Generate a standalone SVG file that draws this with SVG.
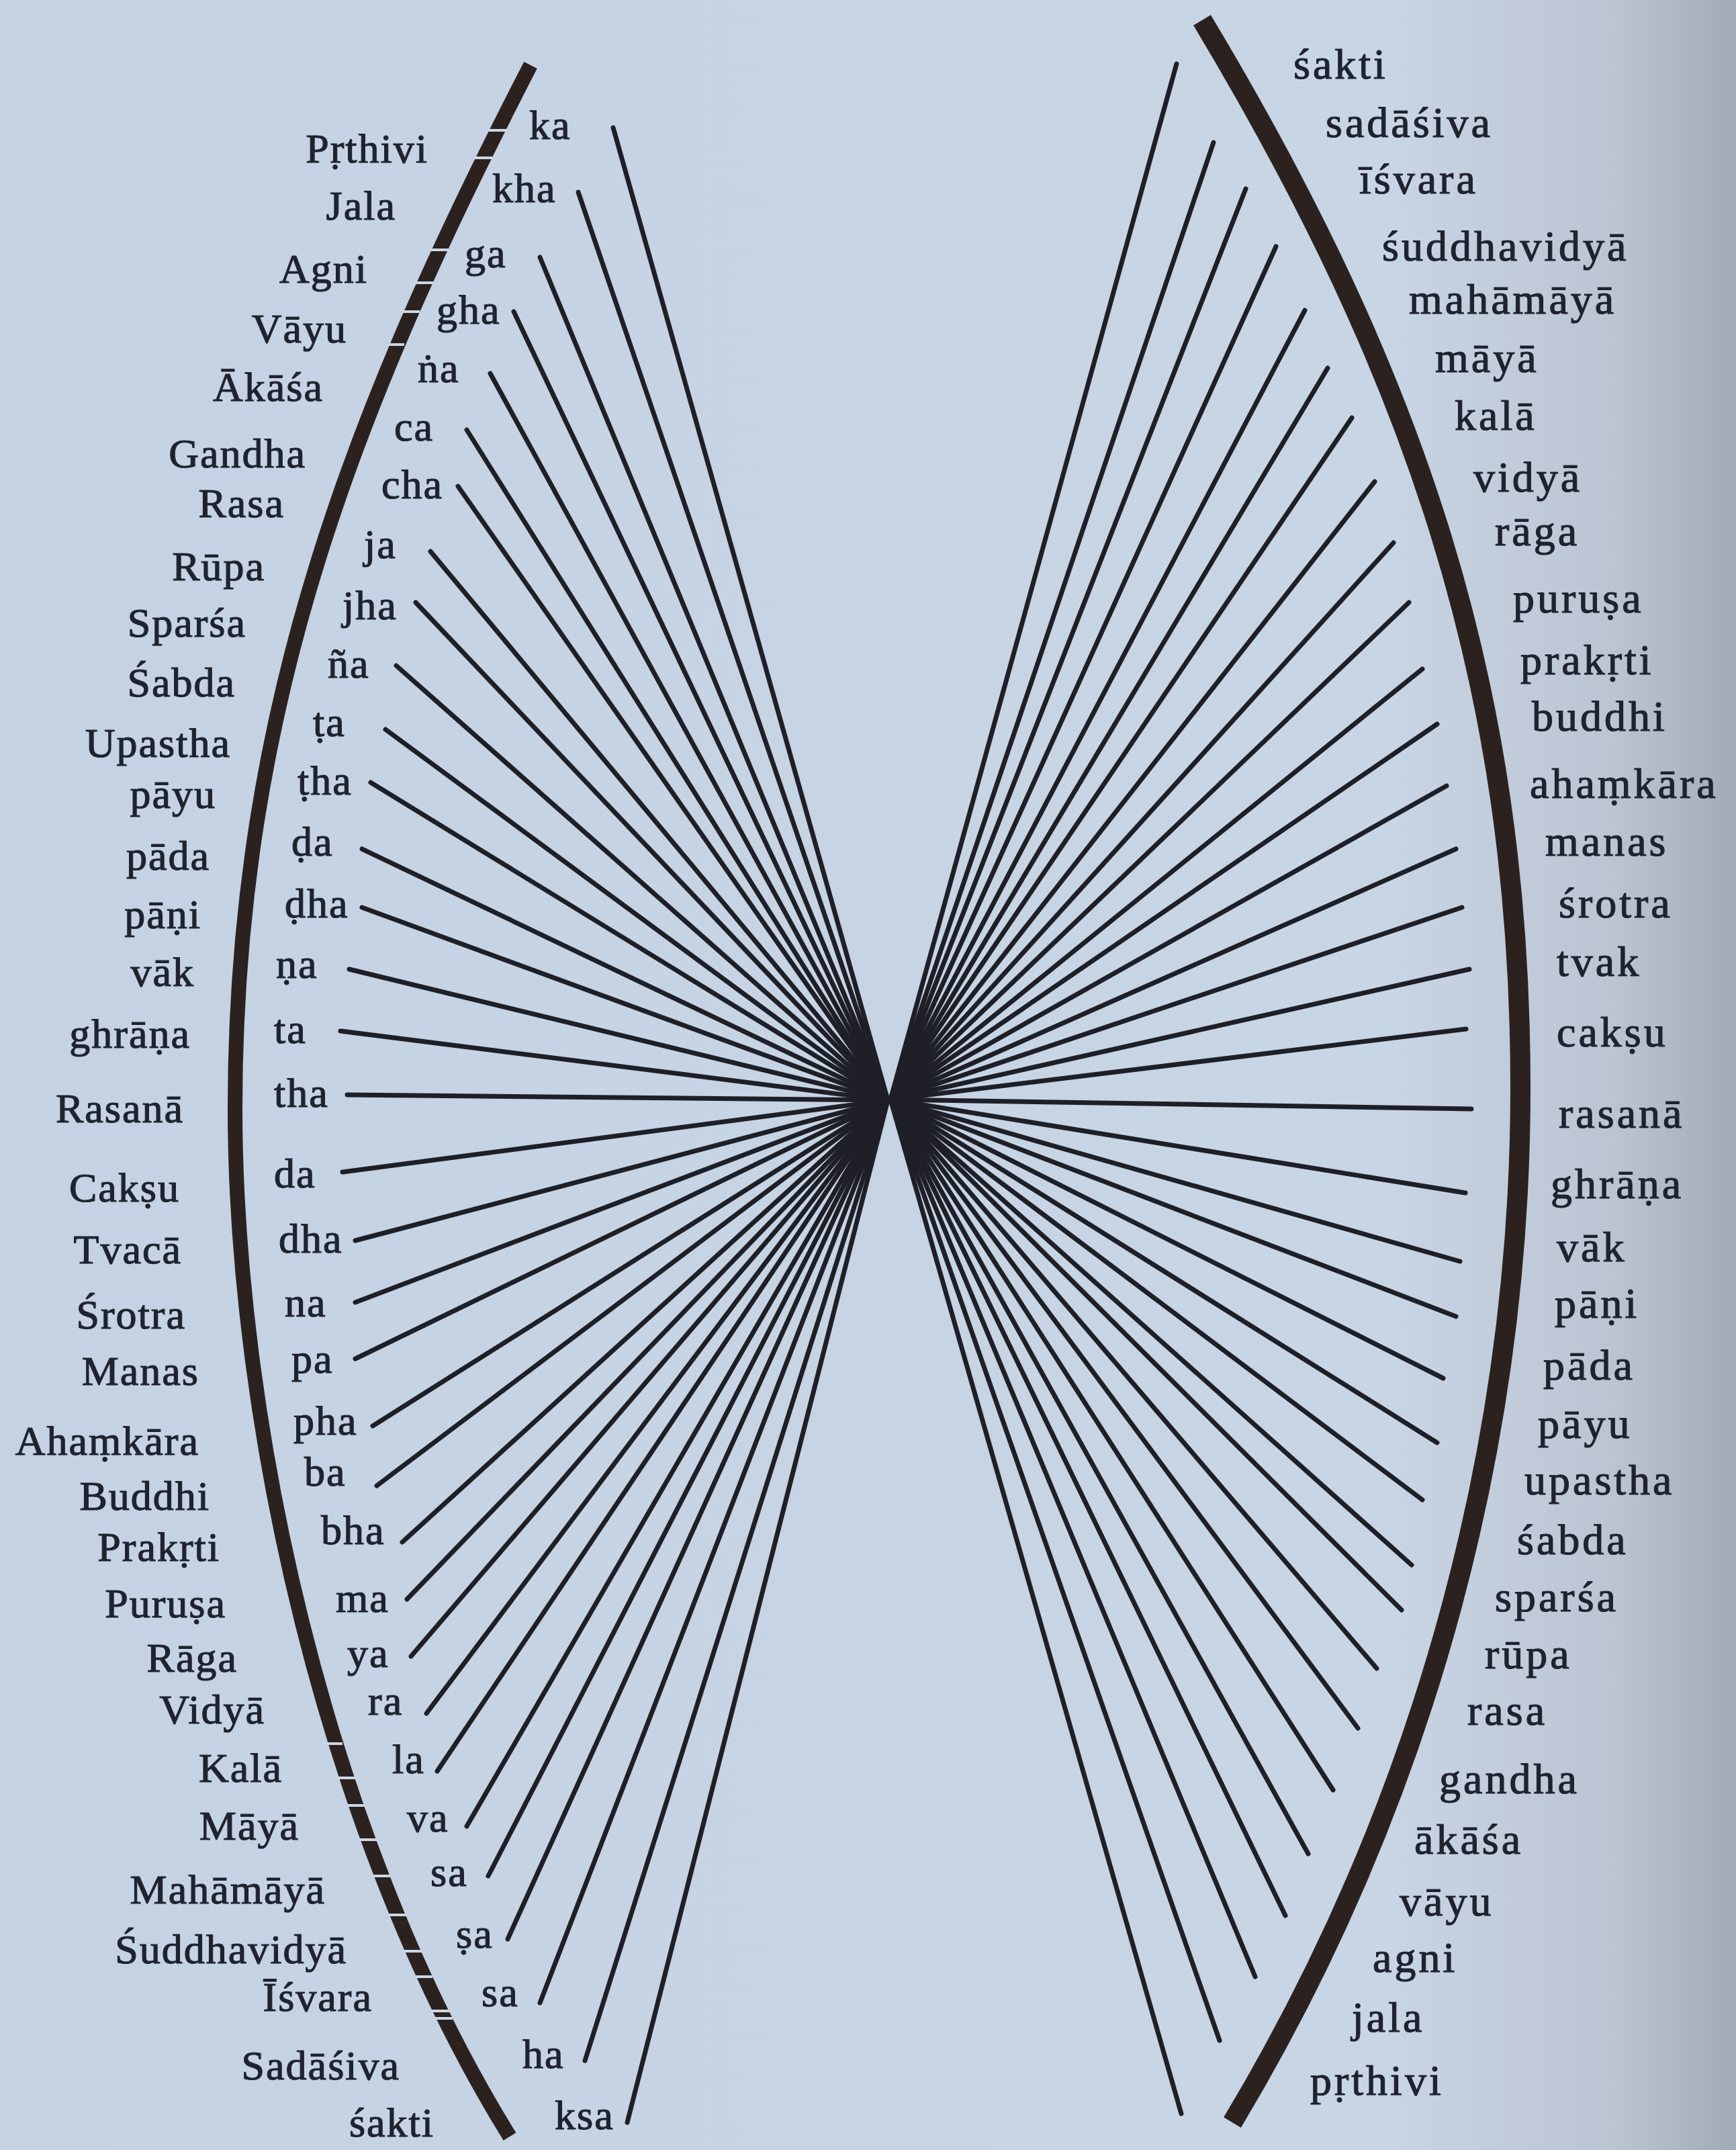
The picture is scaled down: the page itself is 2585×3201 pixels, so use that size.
<svg xmlns="http://www.w3.org/2000/svg" width="2585" height="3201" viewBox="0 0 2585 3201">
<defs>
<linearGradient id="paper" x1="0" y1="0" x2="1" y2="0">
<stop offset="0" stop-color="#c4d2e3"/>
<stop offset="0.8" stop-color="#c8d5e5"/>
<stop offset="0.93" stop-color="#bcc4d2"/>
<stop offset="1" stop-color="#a3aab7"/>
</linearGradient>
<style>
.lbl{font-family:"Liberation Serif","Times New Roman",serif;font-size:62px;fill:#1f232f;stroke:#1f232f;stroke-width:1.2px;letter-spacing:2px}
.lo{text-anchor:end}
.rl{font-size:64px;letter-spacing:4px}
.ln{stroke:#1e1f27;stroke-width:7;stroke-linecap:round;fill:none}
.arc{fill:none;stroke:#2b2220;stroke-linecap:butt}
.gap{stroke:#cbd7e6;stroke-width:4}
</style>
</defs>
<rect width="2585" height="3201" fill="url(#paper)"/>
<g id="arcs">
<path id="left-arc" class="arc" stroke-width="22" d="M790,97 C532,597 350,1050 350,1650 C350,2100 480,2731 759,3181"/>
<path id="right-arc" class="arc" stroke-width="30" d="M1790,30 C2108,560 2264,1020 2264,1620 C2264,2120 2135,2660 1835,3160"/>
<g id="arc-gaps" class="gap">
<line x1="727" y1="194" x2="755" y2="194"/><line x1="705" y1="235" x2="733" y2="235"/>
<line x1="641" y1="372" x2="669" y2="372"/><line x1="617" y1="421" x2="645" y2="421"/>
<line x1="597" y1="464" x2="625" y2="464"/><line x1="574" y1="513" x2="602" y2="513"/>
<line x1="482" y1="2596" x2="510" y2="2596"/><line x1="502" y1="2647" x2="530" y2="2647"/>
<line x1="517" y1="2688" x2="545" y2="2688"/><line x1="535" y1="2739" x2="563" y2="2739"/>
<line x1="555" y1="2793" x2="583" y2="2793"/><line x1="578" y1="2851" x2="606" y2="2851"/>
<line x1="601" y1="2905" x2="629" y2="2905"/><line x1="616" y1="2943" x2="644" y2="2943"/>
<line x1="641" y1="2994" x2="669" y2="2994"/><line x1="646" y1="3005" x2="674" y2="3005"/>
</g>
</g>
<g id="connectors">
<g id="left-lines">
<line class="ln" x1="913" y1="190" x2="1322" y2="1638"/>
<line class="ln" x1="861" y1="286" x2="1322" y2="1638"/>
<line class="ln" x1="804" y1="383" x2="1322" y2="1638"/>
<line class="ln" x1="765" y1="464" x2="1322" y2="1638"/>
<line class="ln" x1="730" y1="556" x2="1322" y2="1638"/>
<line class="ln" x1="695" y1="640" x2="1322" y2="1638"/>
<line class="ln" x1="682" y1="724" x2="1322" y2="1638"/>
<line class="ln" x1="641" y1="821" x2="1322" y2="1638"/>
<line class="ln" x1="619" y1="897" x2="1322" y2="1638"/>
<line class="ln" x1="590" y1="991" x2="1322" y2="1638"/>
<line class="ln" x1="574" y1="1086" x2="1322" y2="1638"/>
<line class="ln" x1="552" y1="1165" x2="1322" y2="1638"/>
<line class="ln" x1="539" y1="1264" x2="1322" y2="1638"/>
<line class="ln" x1="539" y1="1351" x2="1322" y2="1638"/>
<line class="ln" x1="520" y1="1443" x2="1322" y2="1638"/>
<line class="ln" x1="507" y1="1535" x2="1322" y2="1638"/>
<line class="ln" x1="517" y1="1630" x2="1322" y2="1638"/>
<line class="ln" x1="510" y1="1745" x2="1322" y2="1638"/>
<line class="ln" x1="529" y1="1847" x2="1322" y2="1638"/>
<line class="ln" x1="529" y1="1939" x2="1322" y2="1638"/>
<line class="ln" x1="529" y1="2023" x2="1322" y2="1638"/>
<line class="ln" x1="555" y1="2123" x2="1322" y2="1638"/>
<line class="ln" x1="561" y1="2212" x2="1322" y2="1638"/>
<line class="ln" x1="599" y1="2296" x2="1322" y2="1638"/>
<line class="ln" x1="606" y1="2381" x2="1322" y2="1638"/>
<line class="ln" x1="612" y1="2466" x2="1322" y2="1638"/>
<line class="ln" x1="635" y1="2551" x2="1322" y2="1638"/>
<line class="ln" x1="651" y1="2637" x2="1322" y2="1638"/>
<line class="ln" x1="695" y1="2719" x2="1322" y2="1638"/>
<line class="ln" x1="727" y1="2793" x2="1322" y2="1638"/>
<line class="ln" x1="756" y1="2887" x2="1322" y2="1638"/>
<line class="ln" x1="804" y1="2982" x2="1322" y2="1638"/>
<line class="ln" x1="871" y1="3068" x2="1322" y2="1638"/>
<line class="ln" x1="934" y1="3160" x2="1322" y2="1638"/>
</g>
<g id="right-lines">
<line class="ln" x1="1326" y1="1637" x2="1752" y2="95"/>
<line class="ln" x1="1326" y1="1637" x2="1807" y2="212"/>
<line class="ln" x1="1326" y1="1637" x2="1855" y2="281"/>
<line class="ln" x1="1326" y1="1637" x2="1900" y2="367"/>
<line class="ln" x1="1326" y1="1637" x2="1943" y2="462"/>
<line class="ln" x1="1326" y1="1637" x2="1977" y2="548"/>
<line class="ln" x1="1326" y1="1637" x2="2013" y2="622"/>
<line class="ln" x1="1326" y1="1637" x2="2047" y2="717"/>
<line class="ln" x1="1326" y1="1637" x2="2075" y2="808"/>
<line class="ln" x1="1326" y1="1637" x2="2098" y2="897"/>
<line class="ln" x1="1326" y1="1637" x2="2118" y2="996"/>
<line class="ln" x1="1326" y1="1637" x2="2140" y2="1078"/>
<line class="ln" x1="1326" y1="1637" x2="2154" y2="1170"/>
<line class="ln" x1="1326" y1="1637" x2="2168" y2="1264"/>
<line class="ln" x1="1326" y1="1637" x2="2177" y2="1351"/>
<line class="ln" x1="1326" y1="1637" x2="2188" y2="1443"/>
<line class="ln" x1="1326" y1="1637" x2="2183" y2="1532"/>
<line class="ln" x1="1326" y1="1637" x2="2191" y2="1651"/>
<line class="ln" x1="1326" y1="1637" x2="2182" y2="1776"/>
<line class="ln" x1="1326" y1="1637" x2="2174" y2="1878"/>
<line class="ln" x1="1326" y1="1637" x2="2168" y2="1960"/>
<line class="ln" x1="1326" y1="1637" x2="2149" y2="2052"/>
<line class="ln" x1="1326" y1="1637" x2="2140" y2="2148"/>
<line class="ln" x1="1326" y1="1637" x2="2118" y2="2233"/>
<line class="ln" x1="1326" y1="1637" x2="2102" y2="2330"/>
<line class="ln" x1="1326" y1="1637" x2="2087" y2="2397"/>
<line class="ln" x1="1326" y1="1637" x2="2050" y2="2484"/>
<line class="ln" x1="1326" y1="1637" x2="2022" y2="2573"/>
<line class="ln" x1="1326" y1="1637" x2="1985" y2="2665"/>
<line class="ln" x1="1326" y1="1637" x2="1948" y2="2760"/>
<line class="ln" x1="1326" y1="1637" x2="1914" y2="2852"/>
<line class="ln" x1="1326" y1="1637" x2="1869" y2="2943"/>
<line class="ln" x1="1326" y1="1637" x2="1816" y2="3038"/>
<line class="ln" x1="1326" y1="1637" x2="1759" y2="3147"/>
</g>
</g>
<g id="left-tattvas" class="lbl lo">
<text x="638" y="242">Pṛthivi</text>
<text x="590" y="327">Jala</text>
<text x="548" y="421">Agni</text>
<text x="517" y="510">Vāyu</text>
<text x="482" y="597">Ākāśa</text>
<text x="456" y="696">Gandha</text>
<text x="424" y="770">Rasa</text>
<text x="395" y="864">Rūpa</text>
<text x="367" y="948">Sparśa</text>
<text x="351" y="1037">Śabda</text>
<text x="344" y="1127">Upastha</text>
<text x="322" y="1203">pāyu</text>
<text x="313" y="1295">pāda</text>
<text x="300" y="1382">pāṇi</text>
<text x="290" y="1468">vāk</text>
<text x="284" y="1560">ghrāṇa</text>
<text x="274" y="1671">Rasanā</text>
<text x="268" y="1789">Cakṣu</text>
<text x="271" y="1881">Tvacā</text>
<text x="277" y="1978">Śrotra</text>
<text x="297" y="2062">Manas</text>
<text x="297" y="2166">Ahaṃkāra</text>
<text x="313" y="2248">Buddhi</text>
<text x="328" y="2324">Prakṛti</text>
<text x="337" y="2408">Puruṣa</text>
<text x="354" y="2489">Rāga</text>
<text x="395" y="2566">Vidyā</text>
<text x="421" y="2653">Kalā</text>
<text x="446" y="2739">Māyā</text>
<text x="485" y="2834">Mahāmāyā</text>
<text x="517" y="2923">Śuddhavidyā</text>
<text x="555" y="2994">Īśvara</text>
<text x="596" y="3096">Sadāśiva</text>
<text x="647" y="3181">śakti</text>
</g>
<g id="syllables" class="lbl">
<text x="788" y="207">ka</text>
<text x="733" y="301">kha</text>
<text x="692" y="398">ga</text>
<text x="650" y="482">gha</text>
<text x="622" y="569">ṅa</text>
<text x="587" y="656">ca</text>
<text x="568" y="742">cha</text>
<text x="542" y="831">ja</text>
<text x="510" y="922">jha</text>
<text x="488" y="1009">ña</text>
<text x="466" y="1096">ṭa</text>
<text x="443" y="1183">ṭha</text>
<text x="434" y="1274">ḍa</text>
<text x="424" y="1366">ḍha</text>
<text x="411" y="1456">ṇa</text>
<text x="408" y="1553">ta</text>
<text x="408" y="1648">tha</text>
<text x="408" y="1768">da</text>
<text x="415" y="1865">dha</text>
<text x="424" y="1960">na</text>
<text x="434" y="2044">pa</text>
<text x="437" y="2136">pha</text>
<text x="453" y="2212">ba</text>
<text x="478" y="2299">bha</text>
<text x="500" y="2400">ma</text>
<text x="517" y="2482">ya</text>
<text x="548" y="2553">ra</text>
<text x="584" y="2640">la</text>
<text x="606" y="2727">va</text>
<text x="641" y="2808">sa</text>
<text x="679" y="2900">ṣa</text>
<text x="717" y="2987">sa</text>
<text x="778" y="3079">ha</text>
<text x="826" y="3170">ksa</text>
</g>
<g id="right-tattvas" class="lbl rl">
<text x="1926" y="117">śakti</text>
<text x="1974" y="204">sadāśiva</text>
<text x="2024" y="288">īśvara</text>
<text x="2058" y="388">śuddhavidyā</text>
<text x="2098" y="467">mahāmāyā</text>
<text x="2137" y="554">māyā</text>
<text x="2166" y="640">kalā</text>
<text x="2194" y="732">vidyā</text>
<text x="2226" y="812">rāga</text>
<text x="2253" y="912">puruṣa</text>
<text x="2264" y="1004">prakṛti</text>
<text x="2281" y="1088">buddhi</text>
<text x="2278" y="1188">ahaṃkāra</text>
<text x="2301" y="1274">manas</text>
<text x="2321" y="1366">śrotra</text>
<text x="2318" y="1453">tvak</text>
<text x="2318" y="1558">cakṣu</text>
<text x="2321" y="1679">rasanā</text>
<text x="2309" y="1784">ghrāṇa</text>
<text x="2318" y="1878">vāk</text>
<text x="2315" y="1962">pāṇi</text>
<text x="2298" y="2054">pāda</text>
<text x="2290" y="2141">pāyu</text>
<text x="2270" y="2225">upastha</text>
<text x="2259" y="2314">śabda</text>
<text x="2226" y="2399">sparśa</text>
<text x="2211" y="2484">rūpa</text>
<text x="2185" y="2568">rasa</text>
<text x="2143" y="2670">gandha</text>
<text x="2106" y="2760">ākāśa</text>
<text x="2084" y="2852">vāyu</text>
<text x="2044" y="2936">agni</text>
<text x="2013" y="3025">jala</text>
<text x="1951" y="3119">pṛthivi</text>
</g>
</svg>
